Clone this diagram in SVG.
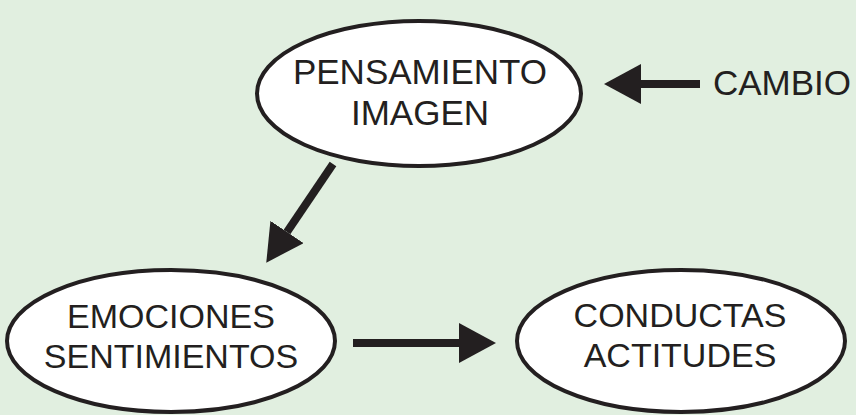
<svg xmlns="http://www.w3.org/2000/svg" width="856" height="415" viewBox="0 0 856 415">
<style>
.node{fill:#ffffff;stroke:#231f20;stroke-width:4}
.lbl{font-family:"Liberation Sans",Arial,sans-serif;fill:#231f20;text-anchor:middle}
.conn{stroke:#231f20;stroke-width:8;fill:none}
</style>
<defs>
<marker id="ah" viewBox="0 0 37 40" refX="0" refY="20" markerWidth="37" markerHeight="40" markerUnits="userSpaceOnUse" orient="auto">
<path d="M0,0 L37,20 L0,40 Z" fill="#231f20"/>
</marker>
</defs>
<rect width="856" height="415" fill="#e1efe0"/>
<g id="pensamiento">
<ellipse class="node" cx="419" cy="93.5" rx="162" ry="72.5"/>
<text class="lbl" font-size="35" x="420" y="84">PENSAMIENTO</text>
<text class="lbl" font-size="35" x="420" y="125">IMAGEN</text>
</g>
<g id="emociones">
<ellipse class="node" cx="171" cy="341" rx="164" ry="71"/>
<text class="lbl" font-size="34" x="171" y="328">EMOCIONES</text>
<text class="lbl" font-size="34" x="171" y="368">SENTIMIENTOS</text>
</g>
<g id="conductas">
<ellipse class="node" cx="681" cy="341" rx="164" ry="71"/>
<text class="lbl" font-size="34" x="680" y="327">CONDUCTAS</text>
<text class="lbl" font-size="34" x="680" y="367">ACTITUDES</text>
</g>
<g id="cambio">
<text class="lbl" font-size="35" x="713" y="95" style="text-anchor:start">CAMBIO</text>
</g>
<g id="connectors">
<line class="conn" x1="700" y1="84" x2="641" y2="84" marker-end="url(#ah)"/>
<line class="conn" x1="333" y1="164" x2="287" y2="232" marker-end="url(#ah)"/>
<line class="conn" x1="353" y1="343" x2="459" y2="343" marker-end="url(#ah)"/>
</g>
</svg>
